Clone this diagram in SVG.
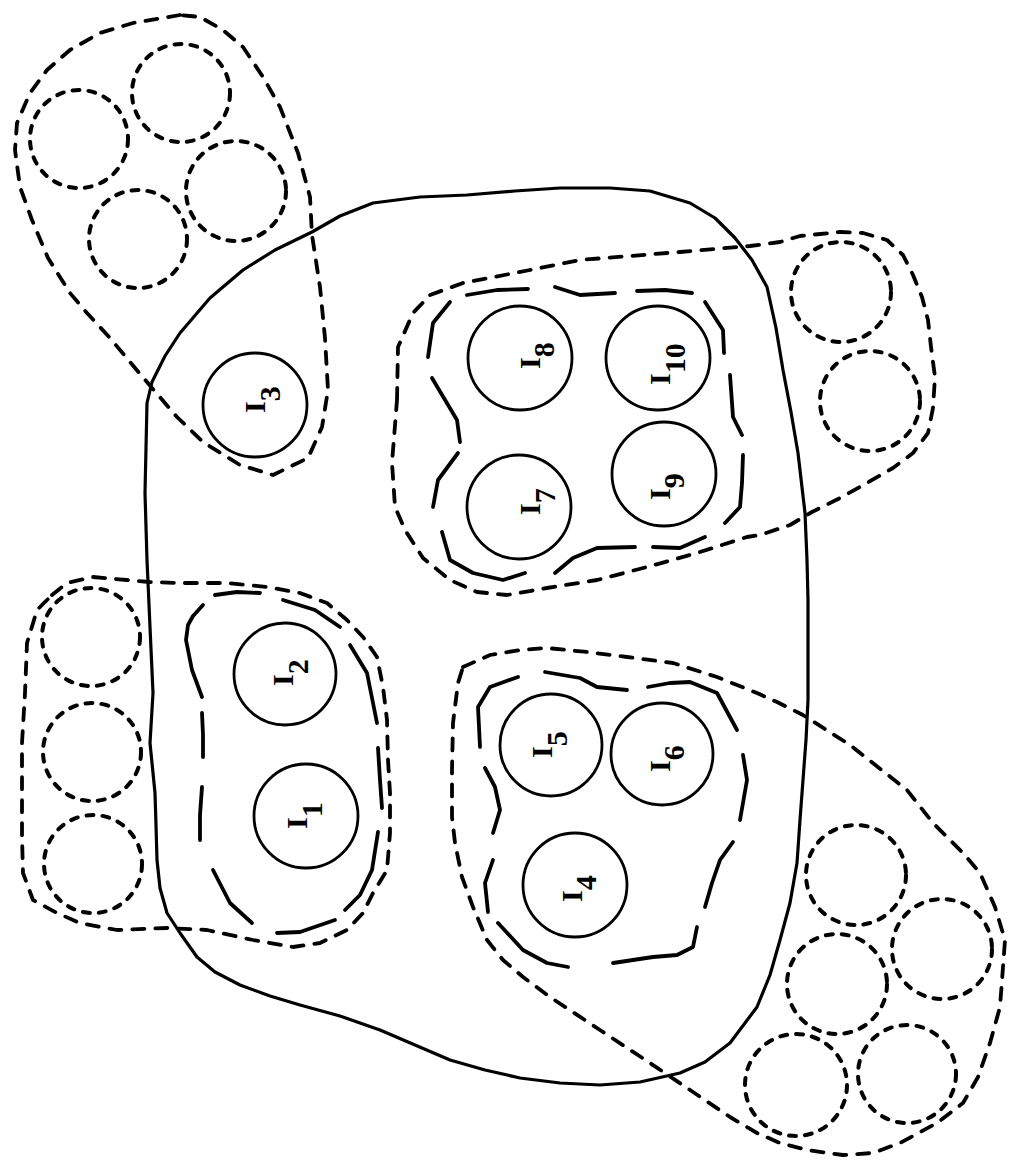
<svg xmlns="http://www.w3.org/2000/svg" width="1013" height="1170" viewBox="0 0 1013 1170">
<style>
.solid{fill:none;stroke:#000;stroke-width:3.2;stroke-linejoin:round;stroke-linecap:round}
.node{fill:none;stroke:#000;stroke-width:2.8}
.dc{fill:none;stroke:#000;stroke-width:4;stroke-dasharray:7 9;stroke-linecap:round}
.od{fill:none;stroke:#000;stroke-width:3.8;stroke-dasharray:12 11;stroke-linecap:round;stroke-linejoin:round}
.ld{fill:none;stroke:#000;stroke-width:3.8;stroke-linecap:round;stroke-linejoin:round}
.lbl{font-family:"Liberation Serif","Times New Roman",serif;font-size:30px;font-weight:bold;fill:#000}
</style>
<rect width="1013" height="1170" fill="#fff"/>

<g id="outline">
<polyline class="solid" points="147,403 152,382 165,356 180,333 210,298 243,270 275,250 312,232 340,216 373,203 420,197 467,195 515,191 560,188 610,188 650,191 690,203 715,218 735,238 752,260 767,287 776,328 783,370 791,412 798,453 805,513 807,560 808,600 808,650 808,700 806,740 803,780 800,820 797,863 790,903 780,940 770,975 757,1007 730,1043 705,1062 680,1073 640,1082 600,1085 560,1083 520,1078 485,1070 450,1060 415,1045 380,1030 340,1016 300,1005 270,996 240,985 215,972 197,957 180,933 167,913 160,888 157,860 156,825 155,793 150,743 153,693 150,627 147,560 145,493 146,448 147,403"/>
</g>

<g id="connectors">
<polyline class="od" points="180,15 133,23 100,33 70,50 47,70 30,93 17,123 15,150 20,187 32,220 48,258 70,293 87,313 110,338 130,362 152,388 177,417 203,442 240,465 273,475 308,458 322,427 328,390 325,338 320,287 312,235 310,197 298,153 280,107 263,77 243,47 223,30 200,17 180,15"/>
<polyline class="od" points="397,400 398,347 413,313 430,295 463,283 530,270 580,260 680,252 750,246 780,242 800,236 840,232 863,233 887,240 903,255 913,275 922,297 928,320 931,347 935,377 933,408 928,433 913,453 893,468 867,483 840,498 812,512 790,525 760,535 747,537 697,553 647,567 597,580 547,588 507,595 477,592 450,580 423,558 405,530 395,507 392,463 397,400"/>
<polyline class="od" points="52,595 67,583 93,577 127,580 150,582 180,583 227,583 267,587 300,593 327,603 347,620 363,637 377,657 383,687 387,720 388,760 390,793 390,833 387,870 373,893 363,913 347,930 320,943 293,947 253,940 207,930 167,928 117,930 80,923 57,913 33,900 23,873 22,837 22,793 22,743 25,693 27,643 37,610 52,595"/>
<polyline class="od" points="463,667 490,655 520,650 547,648 587,652 627,657 673,663 717,677 757,693 777,702 803,715 850,745 907,790 933,823 950,840 963,853 980,873 995,907 1005,940 1003,967 1000,1007 990,1043 978,1077 963,1103 937,1123 900,1143 873,1153 843,1155 807,1150 780,1143 757,1133 730,1117 693,1092 650,1063 600,1030 550,997 523,977 503,960 487,940 473,907 462,877 455,843 452,817 452,770 453,723 458,683 463,667"/>

<polyline class="ld" points="215,595 237,592 260,593"/>
<polyline class="ld" points="283,600 315,610 340,627"/>
<polyline class="ld" points="350,645 367,673 377,723"/>
<polyline class="ld" points="378,748 380,780 382,808"/>
<polyline class="ld" points="378,832 372,870 360,895 345,910"/>
<polyline class="ld" points="335,920 300,932 277,933"/>
<polyline class="ld" points="252,923 230,903 213,870"/>
<polyline class="ld" points="200,840 200,815 202,787"/>
<polyline class="ld" points="203,757 203,735 202,713"/>
<polyline class="ld" points="202,697 192,670 186,640 188,625 193,616 203,605"/>

<polyline class="ld" points="467,295 497,290 528,289"/>
<polyline class="ld" points="555,287 580,295 615,293"/>
<polyline class="ld" points="637,291 665,290 692,293"/>
<polyline class="ld" points="705,302 723,330 724,353"/>
<polyline class="ld" points="730,375 733,417 742,435"/>
<polyline class="ld" points="743,455 742,483 740,507 725,523"/>
<polyline class="ld" points="705,537 680,548 653,547"/>
<polyline class="ld" points="635,547 597,548 573,558 555,573"/>
<polyline class="ld" points="525,573 503,580 473,573 450,560 442,532"/>
<polyline class="ld" points="433,507 438,480 458,453"/>
<polyline class="ld" points="460,442 457,420 432,378"/>
<polyline class="ld" points="428,357 433,323 450,302"/>

<polyline class="ld" points="480,747 478,707 490,687 518,677"/>
<polyline class="ld" points="545,672 580,678 597,687 627,690"/>
<polyline class="ld" points="648,687 670,683 690,682 717,693 737,730"/>
<polyline class="ld" points="743,755 747,780 740,820"/>
<polyline class="ld" points="733,842 720,860 712,883 705,907"/>
<polyline class="ld" points="697,927 693,947 677,955 653,957 613,963"/>
<polyline class="ld" points="568,967 547,963 523,950 498,923"/>
<polyline class="ld" points="488,912 485,883 493,860"/>
<polyline class="ld" points="493,833 500,810 495,787 485,768"/>
</g>

<g id="dashed-circles">
<circle class="dc" cx="79" cy="139" r="49"/>
<circle class="dc" cx="181" cy="93" r="49"/>
<circle class="dc" cx="138" cy="239" r="49"/>
<circle class="dc" cx="236" cy="191" r="50"/>
<circle class="dc" cx="841" cy="292" r="50"/>
<circle class="dc" cx="870" cy="401" r="50"/>
<circle class="dc" cx="91" cy="637" r="49"/>
<circle class="dc" cx="92" cy="752" r="49"/>
<circle class="dc" cx="93" cy="864" r="49"/>
<circle class="dc" cx="856" cy="875" r="50"/>
<circle class="dc" cx="942" cy="949" r="50"/>
<circle class="dc" cx="837" cy="984" r="50"/>
<circle class="dc" cx="796" cy="1085" r="51"/>
<circle class="dc" cx="907" cy="1074" r="49"/>
</g>

<g id="I1"><circle class="node" cx="306" cy="816" r="52"/><text class="lbl" transform="translate(307,829) rotate(-90)">I<tspan dy="15">1</tspan></text></g>
<g id="I2"><circle class="node" cx="285" cy="674" r="51"/><text class="lbl" transform="translate(293,686) rotate(-90)">I<tspan dy="15">2</tspan></text></g>
<g id="I3"><circle class="node" cx="255" cy="405" r="52"/><text class="lbl" transform="translate(265,413) rotate(-90)">I<tspan dy="15">3</tspan></text></g>
<g id="I4"><circle class="node" cx="575" cy="885" r="52"/><text class="lbl" transform="translate(582,902) rotate(-90)">I<tspan dy="14">4</tspan></text></g>
<g id="I5"><circle class="node" cx="551" cy="745" r="51"/><text class="lbl" transform="translate(552,758) rotate(-90)">I<tspan dy="15">5</tspan></text></g>
<g id="I6"><circle class="node" cx="662" cy="754" r="51"/><text class="lbl" transform="translate(670,772) rotate(-90)">I<tspan dy="14">6</tspan></text></g>
<g id="I7"><circle class="node" cx="519" cy="507" r="52"/><text class="lbl" transform="translate(540,515) rotate(-90)">I<tspan dy="15">7</tspan></text></g>
<g id="I8"><circle class="node" cx="520" cy="358" r="52"/><text class="lbl" transform="translate(540,369) rotate(-90)">I<tspan dy="14">8</tspan></text></g>
<g id="I9"><circle class="node" cx="664" cy="474" r="52"/><text class="lbl" transform="translate(670,500) rotate(-90)">I<tspan dy="14">9</tspan></text></g>
<g id="I10"><circle class="node" cx="658" cy="358" r="52"/><text class="lbl" transform="translate(670,385) rotate(-90)">I<tspan dy="15">10</tspan></text></g>
</svg>
